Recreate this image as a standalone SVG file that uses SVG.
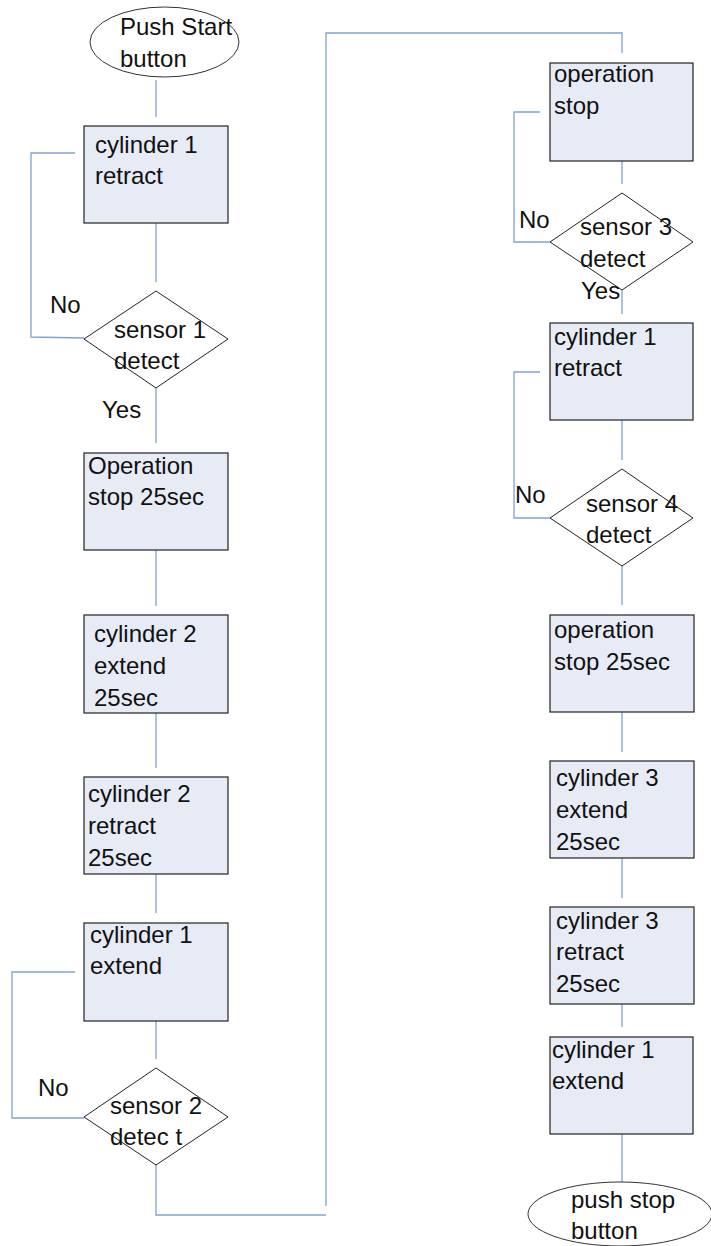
<svg xmlns="http://www.w3.org/2000/svg" width="711" height="1246" viewBox="0 0 711 1246">
  <style>
    .box { fill: #e7ebf6; stroke: #222; stroke-width: 1.2; }
    .term { fill: #fff; stroke: #333; stroke-width: 1; }
    .dec { fill: #fff; stroke: #222; stroke-width: 1; }
    .wire { fill: none; stroke: #7fa1d4; stroke-width: 1.3; }
    text { font-family: "Liberation Sans", Arial, sans-serif; font-size: 24px; fill: #111; }
  </style>

  <!-- connectors -->
  <g id="connectors" class="wire">
    <!-- left column -->
    <line x1="156" y1="80" x2="156" y2="117"/>
    <line x1="156" y1="223" x2="156" y2="282"/>
    <polyline points="75,153 31,153 31,337 84,338"/>
    <line x1="156" y1="388" x2="156" y2="443"/>
    <line x1="156" y1="550" x2="156" y2="606"/>
    <line x1="156" y1="713" x2="156" y2="768"/>
    <line x1="156" y1="874" x2="156" y2="913"/>
    <line x1="156" y1="1021" x2="156" y2="1059"/>
    <polyline points="75,972 12,972 12,1118 84,1118"/>
    <!-- transfer to right column -->
    <polyline points="156,1165 156,1215 326,1215"/>
    <polyline points="326,1206 326,33 622,33 622,53"/>
    <!-- right column -->
    <line x1="622" y1="161" x2="622" y2="184"/>
    <polyline points="540,112 514,112 514,242 550,242"/>
    <line x1="622" y1="290" x2="622" y2="314"/>
    <line x1="622" y1="420" x2="622" y2="460"/>
    <polyline points="540,372 514,372 514,518 550,518"/>
    <line x1="622" y1="566" x2="622" y2="605"/>
    <line x1="622" y1="712" x2="622" y2="752"/>
    <line x1="622" y1="858" x2="622" y2="898"/>
    <line x1="622" y1="1004" x2="622" y2="1027"/>
    <line x1="622" y1="1134" x2="622" y2="1182"/>
  </g>

  <!-- left column nodes -->
  <g id="start">
    <ellipse class="term" cx="164.5" cy="42" rx="74.5" ry="35"/>
    <text x="120" y="35">Push Start</text>
    <text x="120" y="67">button</text>
  </g>
  <g id="cyl1-retract-a">
    <rect class="box" x="84" y="126" width="144" height="97"/>
    <text x="95" y="153">cylinder 1</text>
    <text x="95" y="184">retract</text>
  </g>
  <g id="sensor1">
    <polygon class="dec" points="156,291 228,339 156,388 84,339"/>
    <text x="114" y="338">sensor 1</text>
    <text x="114" y="369">detect</text>
    <text x="50" y="313">No</text>
    <text x="102" y="418">Yes</text>
  </g>
  <g id="opstop-a">
    <rect class="box" x="84" y="453" width="144" height="97"/>
    <text x="88" y="474">Operation</text>
    <text x="88" y="505">stop 25sec</text>
  </g>
  <g id="cyl2-extend">
    <rect class="box" x="84" y="615" width="144" height="98"/>
    <text x="94" y="642">cylinder 2</text>
    <text x="94" y="674">extend</text>
    <text x="94" y="706">25sec</text>
  </g>
  <g id="cyl2-retract">
    <rect class="box" x="84" y="777" width="144" height="97"/>
    <text x="88" y="802">cylinder 2</text>
    <text x="88" y="834">retract</text>
    <text x="88" y="866">25sec</text>
  </g>
  <g id="cyl1-extend-a">
    <rect class="box" x="84" y="923" width="144" height="98"/>
    <text x="90" y="943">cylinder 1</text>
    <text x="90" y="974">extend</text>
  </g>
  <g id="sensor2">
    <polygon class="dec" points="156,1068 228,1117 156,1165 84,1117"/>
    <text x="110" y="1114">sensor 2</text>
    <text x="110" y="1145">detec t</text>
    <text x="38" y="1096">No</text>
  </g>

  <!-- right column nodes -->
  <g id="opstop-b">
    <rect class="box" x="550" y="63" width="143" height="98"/>
    <text x="554" y="82">operation</text>
    <text x="554" y="114">stop</text>
  </g>
  <g id="sensor3">
    <polygon class="dec" points="622,193 693,242 622,290 550,242"/>
    <text x="580" y="235">sensor 3</text>
    <text x="580" y="267">detect</text>
    <text x="519" y="228">No</text>
    <text x="581" y="299">Yes</text>
  </g>
  <g id="cyl1-retract-b">
    <rect class="box" x="550" y="323" width="143" height="97"/>
    <text x="554" y="345">cylinder 1</text>
    <text x="554" y="376">retract</text>
  </g>
  <g id="sensor4">
    <polygon class="dec" points="622,469 693,518 622,566 550,518"/>
    <text x="586" y="512">sensor 4</text>
    <text x="586" y="543">detect</text>
    <text x="515" y="503">No</text>
  </g>
  <g id="opstop-c">
    <rect class="box" x="550" y="615" width="144" height="97"/>
    <text x="554" y="638">operation</text>
    <text x="554" y="670">stop 25sec</text>
  </g>
  <g id="cyl3-extend">
    <rect class="box" x="550" y="761" width="144" height="97"/>
    <text x="556" y="786">cylinder 3</text>
    <text x="556" y="818">extend</text>
    <text x="556" y="850">25sec</text>
  </g>
  <g id="cyl3-retract">
    <rect class="box" x="550" y="907" width="144" height="97"/>
    <text x="556" y="929">cylinder 3</text>
    <text x="556" y="960">retract</text>
    <text x="556" y="992">25sec</text>
  </g>
  <g id="cyl1-extend-b">
    <rect class="box" x="550" y="1037" width="143" height="97"/>
    <text x="552" y="1058">cylinder 1</text>
    <text x="552" y="1089">extend</text>
  </g>
  <g id="stop">
    <ellipse class="term" cx="620" cy="1214" rx="92" ry="32"/>
    <text x="571" y="1208">push stop</text>
    <text x="571" y="1239">button</text>
  </g>
</svg>
